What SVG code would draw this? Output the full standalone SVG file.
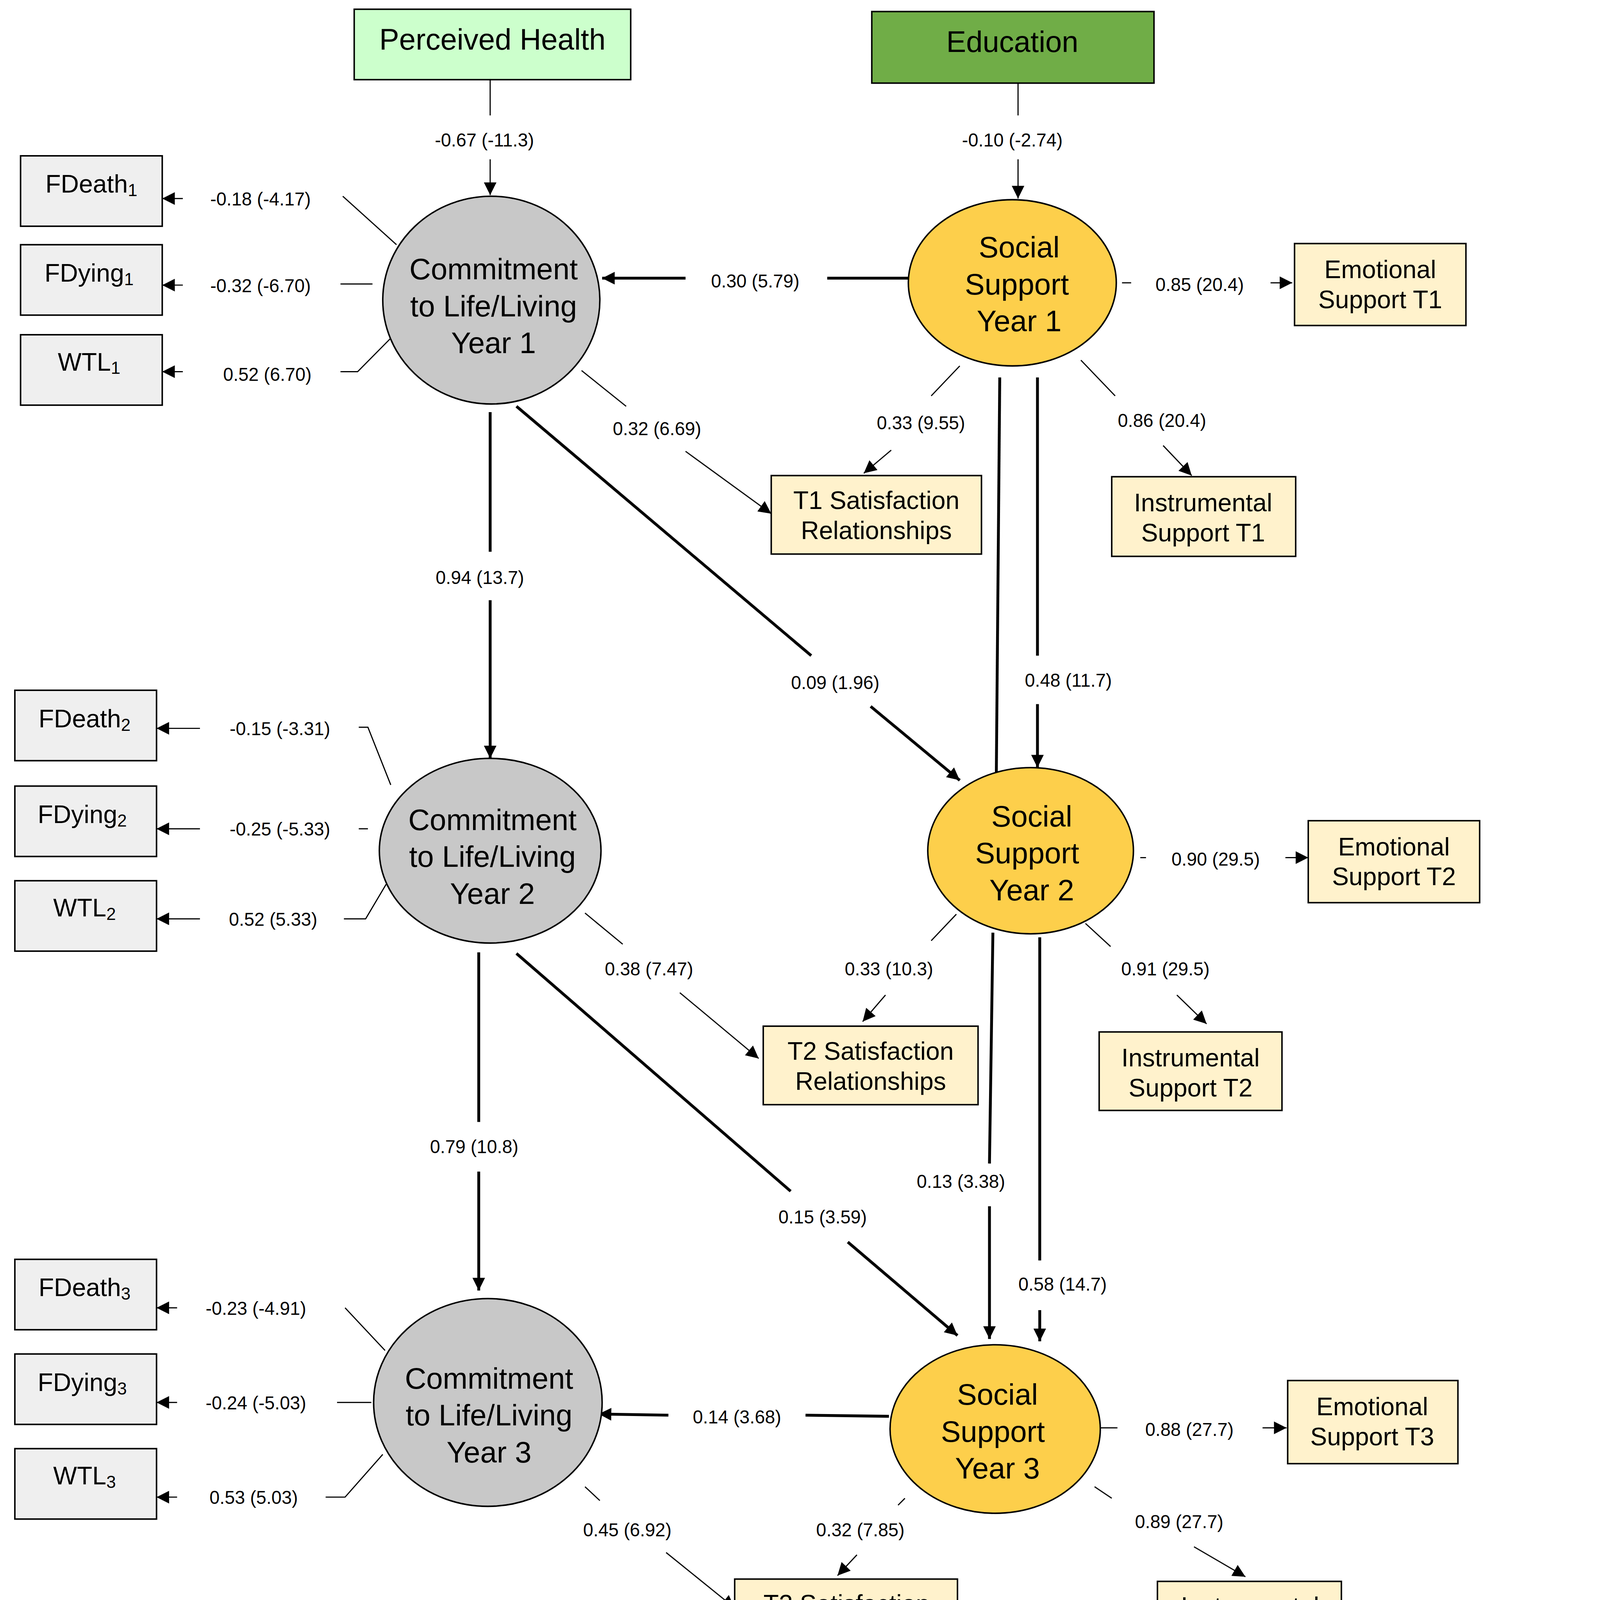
<svg xmlns="http://www.w3.org/2000/svg" width="4124" height="4610" viewBox="0 0 4124 4610">
<defs>
<marker id="ah" viewBox="0 0 10 10" refX="10" refY="5" markerWidth="12" markerHeight="11" markerUnits="userSpaceOnUse" orient="auto"><path d="M0,0 L10,5 L0,10 z" fill="#000"/></marker>
<style>
.box{stroke:#000;stroke-width:1.3}
.ind{fill:#efefef}
.sup{fill:#fff2cc}
.t{font-family:"Liberation Sans",Arial,sans-serif;fill:#000}
.nl{font-size:22px;text-anchor:middle}
.el{font-size:26px;text-anchor:middle}
.pl{font-size:16px;text-anchor:middle}
.th{stroke:#000;stroke-width:1;fill:none}
.tk{stroke:#000;stroke-width:2.5;fill:none}
.note{font-family:"Liberation Serif","Times New Roman",serif;font-size:24px;fill:#000}
</style>
</defs>
<rect width="4124" height="4610" fill="#fff"/>
<g transform="scale(2.925 2.955)">
<g id="connectors">
<line class="th" x1="429" y1="69" x2="429" y2="100"/><line class="th" x1="429" y1="138" x2="429" y2="169" marker-end="url(#ah)"/>
<line class="th" x1="891" y1="72" x2="891" y2="100"/><line class="th" x1="891" y1="138" x2="891" y2="172" marker-end="url(#ah)"/>
<line class="tk" x1="795" y1="241" x2="724" y2="241"/><line class="tk" x1="600" y1="241" x2="527" y2="241" marker-end="url(#ah)"/>
<line class="tk" x1="429" y1="357" x2="429" y2="478"/><line class="tk" x1="429" y1="520" x2="429" y2="657" marker-end="url(#ah)"/>
<line class="tk" x1="452" y1="352" x2="710" y2="568"/><line class="tk" x1="762" y1="612" x2="840" y2="676" marker-end="url(#ah)"/>
<line class="th" x1="509" y1="321" x2="548" y2="352"/><line class="th" x1="600" y1="391" x2="675" y2="445" marker-end="url(#ah)"/>
<line class="th" x1="840" y1="317" x2="815" y2="343"/><line class="th" x1="780" y1="390" x2="756" y2="410" marker-end="url(#ah)"/>
<line class="th" x1="946" y1="312" x2="976" y2="343"/><line class="th" x1="1018" y1="386" x2="1043" y2="412" marker-end="url(#ah)"/>
<line class="th" x1="982" y1="245" x2="990" y2="245"/><line class="th" x1="1112" y1="245" x2="1131" y2="245" marker-end="url(#ah)"/>
<line class="tk" x1="908" y1="327" x2="908" y2="568"/><line class="tk" x1="908" y1="610" x2="908" y2="665" marker-end="url(#ah)"/>
<line class="tk" x1="875" y1="327" x2="872" y2="670"/><line class="tk" x1="869" y1="808" x2="866" y2="1008"/><line class="tk" x1="866" y1="1045" x2="866" y2="1160" marker-end="url(#ah)"/>
<line class="tk" x1="910" y1="812" x2="910" y2="1092"/><line class="tk" x1="910" y1="1135" x2="910" y2="1162" marker-end="url(#ah)"/>
<line class="tk" x1="419" y1="825" x2="419" y2="972"/><line class="tk" x1="419" y1="1015" x2="419" y2="1118" marker-end="url(#ah)"/>
<line class="tk" x1="452" y1="826" x2="692" y2="1032"/><line class="tk" x1="742" y1="1076" x2="838" y2="1157" marker-end="url(#ah)"/>
<line class="th" x1="512" y1="791" x2="545" y2="818"/><line class="th" x1="595" y1="860" x2="664" y2="917" marker-end="url(#ah)"/>
<line class="th" x1="837" y1="792" x2="815" y2="815"/><line class="th" x1="775" y1="862" x2="755" y2="885" marker-end="url(#ah)"/>
<line class="th" x1="950" y1="800" x2="972" y2="820"/><line class="th" x1="1030" y1="862" x2="1056" y2="887" marker-end="url(#ah)"/>
<line class="th" x1="998" y1="743" x2="1003" y2="743"/><line class="th" x1="1125" y1="743" x2="1145" y2="743" marker-end="url(#ah)"/>
<polyline class="th" points="300,170 347,212"/><line class="th" x1="160" y1="172" x2="142" y2="172" marker-end="url(#ah)"/>
<polyline class="th" points="298,246 326,246"/><line class="th" x1="160" y1="247" x2="142" y2="247" marker-end="url(#ah)"/>
<polyline class="th" points="298,322 313,322 342,293"/><line class="th" x1="160" y1="322" x2="142" y2="322" marker-end="url(#ah)"/>
<polyline class="th" points="314,630 322,630 342,680"/><line class="th" x1="175" y1="631" x2="137" y2="631" marker-end="url(#ah)"/>
<polyline class="th" points="314,718 322,718"/><line class="th" x1="175" y1="718" x2="137" y2="718" marker-end="url(#ah)"/>
<polyline class="th" points="301,796 320,796 338,766"/><line class="th" x1="175" y1="796" x2="137" y2="796" marker-end="url(#ah)"/>
<polyline class="th" points="302,1133 337,1170"/><line class="th" x1="155" y1="1133" x2="137" y2="1133" marker-end="url(#ah)"/>
<polyline class="th" points="295,1215 325,1215"/><line class="th" x1="155" y1="1215" x2="137" y2="1215" marker-end="url(#ah)"/>
<polyline class="th" points="285,1297 302,1297 335,1260"/><line class="th" x1="155" y1="1297" x2="137" y2="1297" marker-end="url(#ah)"/>
<line class="tk" x1="778" y1="1227" x2="705" y2="1226"/><line class="tk" x1="585" y1="1226" x2="524" y2="1225" marker-end="url(#ah)"/>
<line class="th" x1="512" y1="1288" x2="525" y2="1300"/><line class="th" x1="583" y1="1345" x2="643" y2="1393" marker-end="url(#ah)"/>
<line class="th" x1="792" y1="1298" x2="786" y2="1304"/><line class="th" x1="750" y1="1347" x2="733" y2="1365" marker-end="url(#ah)"/>
<line class="th" x1="958" y1="1288" x2="973" y2="1298"/><line class="th" x1="1045" y1="1340" x2="1090" y2="1366" marker-end="url(#ah)"/>
<line class="th" x1="963" y1="1237" x2="978" y2="1237"/><line class="th" x1="1105" y1="1237" x2="1126" y2="1237" marker-end="url(#ah)"/>
<g class="t pl">
<text x="424" y="127">-0.67 (-11.3)</text><text x="886" y="127">-0.10 (-2.74)</text>
<text x="661" y="249">0.30 (5.79)</text><text x="420" y="506">0.94 (13.7)</text><text x="731" y="597">0.09 (1.96)</text>
<text x="575" y="377">0.32 (6.69)</text><text x="806" y="372">0.33 (9.55)</text><text x="1017" y="370">0.86 (20.4)</text>
<text x="1050" y="252">0.85 (20.4)</text><text x="935" y="595">0.48 (11.7)</text><text x="841" y="1029">0.13 (3.38)</text>
<text x="930" y="1118">0.58 (14.7)</text><text x="415" y="999">0.79 (10.8)</text><text x="720" y="1060">0.15 (3.59)</text>
<text x="568" y="845">0.38 (7.47)</text><text x="778" y="845">0.33 (10.3)</text><text x="1020" y="845">0.91 (29.5)</text>
<text x="1064" y="750">0.90 (29.5)</text>
<text x="228" y="178">-0.18 (-4.17)</text><text x="228" y="253">-0.32 (-6.70)</text><text x="234" y="330">0.52 (6.70)</text>
<text x="245" y="637">-0.15 (-3.31)</text><text x="245" y="724">-0.25 (-5.33)</text><text x="239" y="802">0.52 (5.33)</text>
<text x="224" y="1139">-0.23 (-4.91)</text><text x="224" y="1221">-0.24 (-5.03)</text><text x="222" y="1303">0.53 (5.03)</text>
<text x="645" y="1233">0.14 (3.68)</text><text x="549" y="1331">0.45 (6.92)</text><text x="753" y="1331">0.32 (7.85)</text>
<text x="1032" y="1324">0.89 (27.7)</text><text x="1041" y="1244">0.88 (27.7)</text>
</g>
</g>
<g id="perceived-health"><rect class="box" x="310" y="8" width="242" height="61" fill="#ccffcc"/><text class="t" x="431" y="43" font-size="26" text-anchor="middle">Perceived Health</text></g>
<g id="education"><rect class="box" x="763" y="10" width="247" height="62" fill="#70ad47"/><text class="t" x="886" y="45" font-size="26" text-anchor="middle">Education</text></g>
<g id="c1"><ellipse class="box" cx="430" cy="260" rx="95" ry="90" fill="#c8c8c8"/><text class="t el" x="432" y="242">Commitment</text><text class="t el" x="432" y="274">to Life/Living</text><text class="t el" x="432" y="306">Year 1</text></g>
<g id="c2"><ellipse class="box" cx="429" cy="737" rx="97" ry="80" fill="#c8c8c8"/><text class="t el" x="431" y="719">Commitment</text><text class="t el" x="431" y="751">to Life/Living</text><text class="t el" x="431" y="783">Year 2</text></g>
<g id="c3"><ellipse class="box" cx="427" cy="1215" rx="100" ry="90" fill="#c8c8c8"/><text class="t el" x="428" y="1203">Commitment</text><text class="t el" x="428" y="1235">to Life/Living</text><text class="t el" x="428" y="1267">Year 3</text></g>
<g id="s1"><ellipse class="box" cx="886" cy="245" rx="91" ry="72" fill="#fdcf4b"/><text class="t el" x="892" y="223">Social</text><text class="t el" x="890" y="255">Support</text><text class="t el" x="892" y="287">Year 1</text></g>
<g id="s2"><ellipse class="box" cx="902" cy="737" rx="90" ry="72" fill="#fdcf4b"/><text class="t el" x="903" y="716">Social</text><text class="t el" x="899" y="748">Support</text><text class="t el" x="903" y="780">Year 2</text></g>
<g id="s3"><ellipse class="box" cx="871" cy="1238" rx="92" ry="73" fill="#fdcf4b"/><text class="t el" x="873" y="1217">Social</text><text class="t el" x="869" y="1249">Support</text><text class="t el" x="873" y="1281">Year 3</text></g>
<g id="fdeath1"><rect class="box ind" x="18" y="135" width="124" height="61"/><text class="t" x="80" y="167" font-size="22" text-anchor="middle">FDeath<tspan font-size="15" dy="3">1</tspan></text></g>
<g id="fdying1"><rect class="box ind" x="18" y="212" width="124" height="61"/><text class="t" x="78" y="244" font-size="22" text-anchor="middle">FDying<tspan font-size="15" dy="3">1</tspan></text></g>
<g id="wtl1"><rect class="box ind" x="18" y="290" width="124" height="61"/><text class="t" x="78" y="321" font-size="22" text-anchor="middle">WTL<tspan font-size="15" dy="3">1</tspan></text></g>
<g id="fdeath2"><rect class="box ind" x="13" y="598" width="124" height="61"/><text class="t" x="74" y="630" font-size="22" text-anchor="middle">FDeath<tspan font-size="15" dy="3">2</tspan></text></g>
<g id="fdying2"><rect class="box ind" x="13" y="681" width="124" height="61"/><text class="t" x="72" y="713" font-size="22" text-anchor="middle">FDying<tspan font-size="15" dy="3">2</tspan></text></g>
<g id="wtl2"><rect class="box ind" x="13" y="763" width="124" height="61"/><text class="t" x="74" y="794" font-size="22" text-anchor="middle">WTL<tspan font-size="15" dy="3">2</tspan></text></g>
<g id="fdeath3"><rect class="box ind" x="13" y="1091" width="124" height="61"/><text class="t" x="74" y="1123" font-size="22" text-anchor="middle">FDeath<tspan font-size="15" dy="3">3</tspan></text></g>
<g id="fdying3"><rect class="box ind" x="13" y="1173" width="124" height="61"/><text class="t" x="72" y="1205" font-size="22" text-anchor="middle">FDying<tspan font-size="15" dy="3">3</tspan></text></g>
<g id="wtl3"><rect class="box ind" x="13" y="1255" width="124" height="61"/><text class="t" x="74" y="1286" font-size="22" text-anchor="middle">WTL<tspan font-size="15" dy="3">3</tspan></text></g>
<g id="emo1"><rect class="box sup" x="1133" y="211" width="150" height="71"/><text class="t nl" x="1208" y="241">Emotional</text><text class="t nl" x="1208" y="267">Support T1</text></g>
<g id="ins1"><rect class="box sup" x="973" y="413" width="161" height="69"/><text class="t nl" x="1053" y="443">Instrumental</text><text class="t nl" x="1053" y="469">Support T1</text></g>
<g id="sat1"><rect class="box sup" x="675" y="412" width="184" height="68"/><text class="t nl" x="767" y="441">T1 Satisfaction</text><text class="t nl" x="767" y="467">Relationships</text></g>
<g id="emo2"><rect class="box sup" x="1145" y="711" width="150" height="71"/><text class="t nl" x="1220" y="741">Emotional</text><text class="t nl" x="1220" y="767">Support T2</text></g>
<g id="ins2"><rect class="box sup" x="962" y="894" width="160" height="68"/><text class="t nl" x="1042" y="924">Instrumental</text><text class="t nl" x="1042" y="950">Support T2</text></g>
<g id="sat2"><rect class="box sup" x="668" y="889" width="188" height="68"/><text class="t nl" x="762" y="918">T2 Satisfaction</text><text class="t nl" x="762" y="944">Relationships</text></g>
<g id="emo3"><rect class="box sup" x="1127" y="1196" width="149" height="72"/><text class="t nl" x="1201" y="1226">Emotional</text><text class="t nl" x="1201" y="1252">Support T3</text></g>
<g id="ins3"><rect class="box sup" x="1013" y="1370" width="161" height="68"/><text class="t nl" x="1094" y="1399">Instrumental</text><text class="t nl" x="1094" y="1425">Support T3</text></g>
<g id="sat3"><rect class="box sup" x="643" y="1368" width="195" height="68"/><text class="t nl" x="741" y="1397">T3 Satisfaction</text><text class="t nl" x="741" y="1423">Relationships</text></g>
<g id="note">
<text class="note" x="283" y="1488" textLength="1114" lengthAdjust="spacingAndGlyphs">Note: Parameters are expressed as maximum likelihood estimates (standardized solution). All paths</text>
<text class="note" x="283" y="1521" textLength="1114" lengthAdjust="spacingAndGlyphs">are statistically significant. Parenthetical numbers indicate significance levels (CR &gt; |1.96|, <tspan font-style="italic">p</tspan> &lt; 0.05;</text>
<text class="note" x="283" y="1553" textLength="941" lengthAdjust="spacingAndGlyphs">CR &gt; |2.58|, <tspan font-style="italic">p</tspan> &lt; 0.01). Thicker arrows indicate associations between latent variables.</text>
</g>
</g>
</svg>
